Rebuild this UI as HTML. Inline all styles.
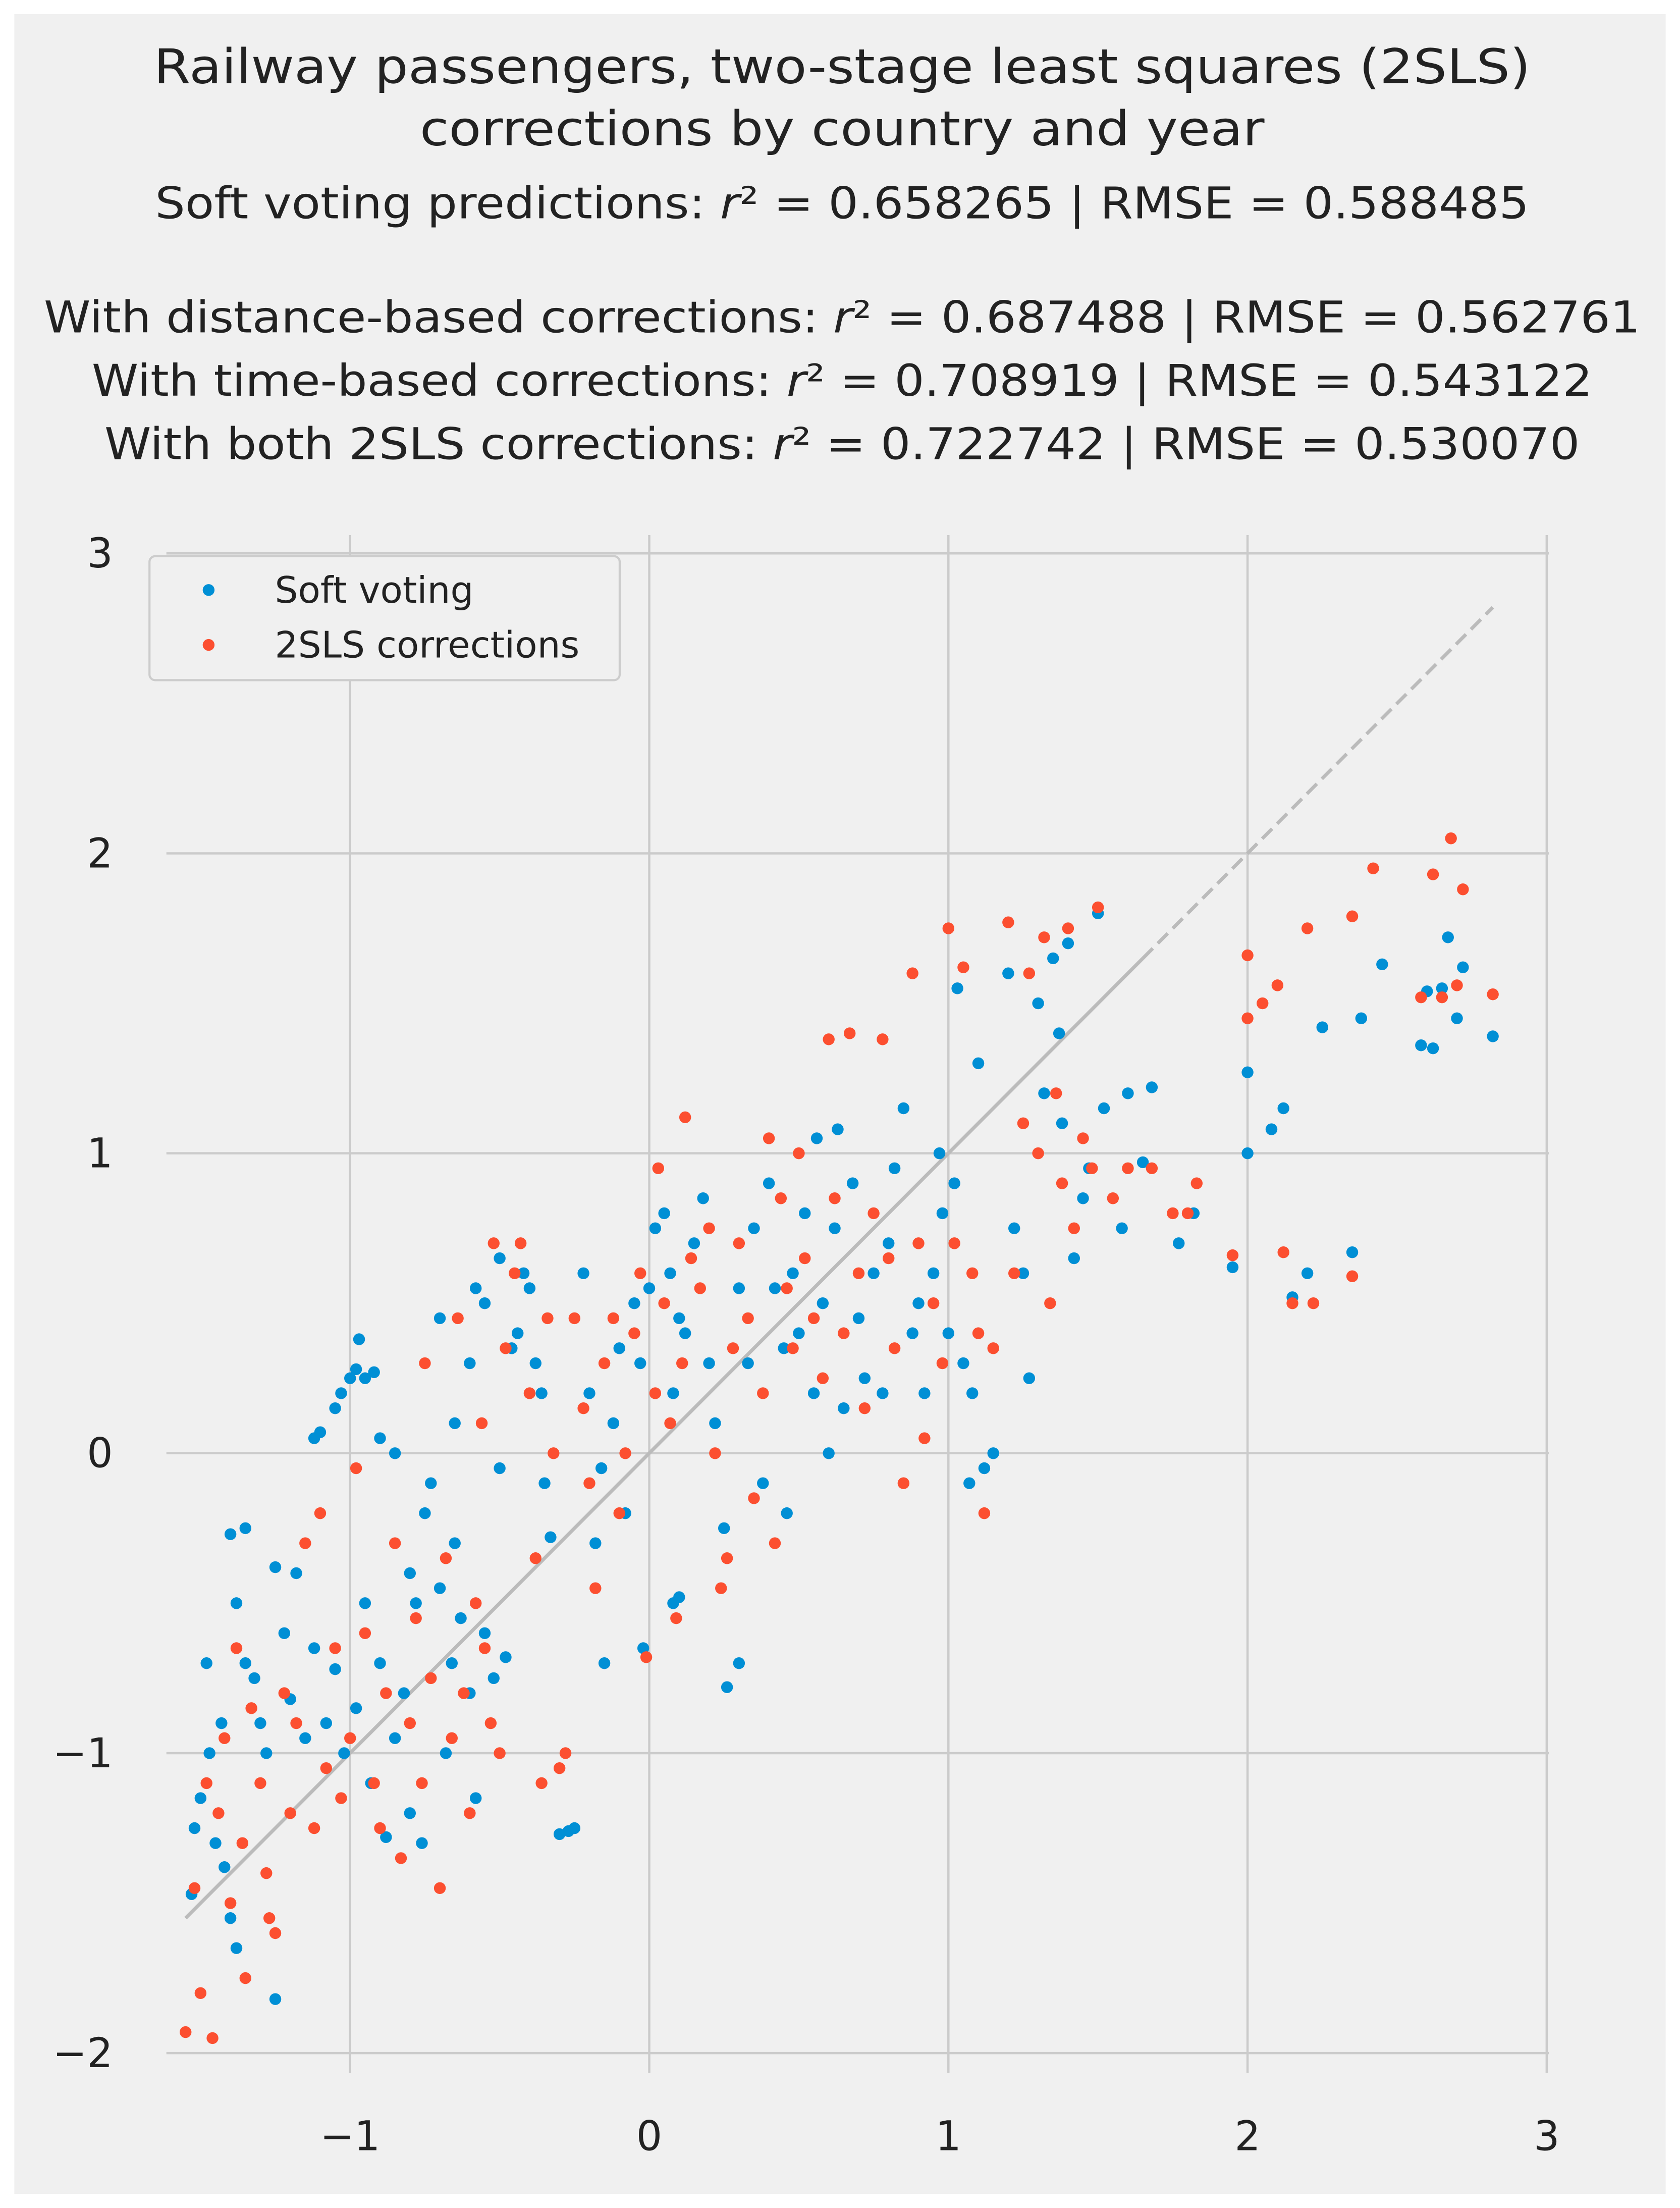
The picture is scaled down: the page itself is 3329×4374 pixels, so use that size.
<!DOCTYPE html>
<html><head><meta charset="utf-8"><style>
html,body{margin:0;padding:0;background:#fff;}
svg{display:block;font-family:"DejaVu Sans","Liberation Sans",sans-serif;}
</style></head><body>
<svg id="chart" width="3329" height="4374" viewBox="0 0 1193 1568" xmlns="http://www.w3.org/2000/svg" xml:space="preserve">
<rect x="0" y="0" width="1193" height="1568" fill="#ffffff"/>
<rect x="10" y="10" width="1173" height="1548" fill="#f0f0f0"/>
<g id="titles" fill="#222" text-anchor="middle">
<text x="598" y="59" font-size="34" textLength="978" lengthAdjust="spacingAndGlyphs">Railway passengers, two-stage least squares (2SLS)</text>
<text x="598" y="103" font-size="34" textLength="600" lengthAdjust="spacingAndGlyphs">corrections by country and year</text>
<text x="598" y="155" font-size="31" textLength="976" lengthAdjust="spacingAndGlyphs">Soft voting predictions: <tspan font-style="italic">r</tspan>² = 0.658265  |  RMSE = 0.588485</text>
<text x="598" y="236" font-size="31" textLength="1134" lengthAdjust="spacingAndGlyphs">With distance-based corrections: <tspan font-style="italic">r</tspan>² = 0.687488  |  RMSE = 0.562761</text>
<text x="598" y="281" font-size="31" textLength="1066" lengthAdjust="spacingAndGlyphs">With time-based corrections: <tspan font-style="italic">r</tspan>² = 0.708919  |  RMSE = 0.543122</text>
<text x="598" y="326" font-size="31" textLength="1048" lengthAdjust="spacingAndGlyphs">With both 2SLS corrections: <tspan font-style="italic">r</tspan>² = 0.722742  |  RMSE = 0.530070</text>
</g>
<g id="grid"></g>
<g id="ticks"></g>
<g id="diag"></g>
<g id="blue"></g>
<g id="red"></g>
<g id="legend">
<rect x="106" y="395" width="334" height="88" rx="4" fill="#f0f0f0" stroke="#cccccc" stroke-width="1.5"/>
<circle cx="148" cy="419" r="4.2" fill="#008fd5"/>
<text x="195" y="428" font-size="26" fill="#222">Soft voting</text>
<circle cx="148" cy="458" r="4.2" fill="#fc4f30"/>
<text x="195" y="467" font-size="26" fill="#222">2SLS corrections</text>
</g>
</svg>
<script>
const xTicks=[-1,0,1,2,3];
const yTicks=[-2,-1,0,1,2,3];
const xTickLabels=["\u22121","0","1","2","3"];
const yTickLabels=["\u22122","\u22121","0","1","2","3"];
const diagRange=[-1.55,1.65,2.82];
const blueX=[-1.53,-1.52,-1.5,-1.48,-1.47,-1.45,-1.43,-1.42,-1.4,-1.38,-1.35,-1.4,-1.38,-1.35,-1.32,-1.3,-1.28,-1.25,-1.25,-1.22,-1.2,-1.18,-1.15,-1.12,-1.12,-1.1,-1.05,-1.03,-1.0,-0.98,-0.97,-0.95,-0.92,-1.08,-1.05,-1.02,-0.98,-0.95,-0.93,-0.9,-0.88,-0.85,-0.82,-0.8,-0.78,-0.76,-0.75,-0.73,-0.7,-0.68,-0.66,-0.65,-0.63,-0.6,-0.58,-0.55,-0.52,-0.5,-0.48,-0.46,-0.44,-0.42,-0.4,-0.38,-0.36,-0.35,-0.33,-0.3,-0.27,-0.25,-0.22,-0.2,-0.18,-0.16,-0.15,-0.12,-0.1,-0.08,-0.05,-0.03,-0.02,0.0,0.02,0.05,0.07,0.1,0.12,0.08,0.15,0.18,0.2,0.22,0.08,0.1,0.25,0.26,0.3,0.3,0.33,0.35,0.38,0.4,0.42,0.45,0.46,0.48,0.5,0.52,0.55,0.56,0.58,0.6,0.62,0.63,0.65,0.68,0.7,0.72,0.75,0.78,0.8,0.82,0.85,0.88,0.9,0.92,0.95,0.97,0.98,1.0,1.02,1.03,1.05,1.07,1.08,1.1,1.12,1.15,1.2,1.22,1.25,1.27,1.3,1.32,1.35,1.37,1.38,1.4,1.42,1.45,1.47,1.5,1.52,1.58,1.6,1.65,1.68,1.77,1.82,1.95,2.0,2.0,2.08,2.12,2.15,2.2,2.25,2.35,2.38,2.45,2.58,2.6,2.62,2.65,2.67,2.7,2.72,2.82,-0.9,-0.85,-0.8,-0.6,-0.55,-0.5,-0.58,-0.65,-0.7];
const blueY=[-1.47,-1.25,-1.15,-0.7,-1.0,-1.3,-0.9,-1.38,-1.55,-1.65,-0.25,-0.27,-0.5,-0.7,-0.75,-0.9,-1.0,-0.38,-1.82,-0.6,-0.82,-0.4,-0.95,-0.65,0.05,0.07,0.15,0.2,0.25,0.28,0.38,0.25,0.27,-0.9,-0.72,-1.0,-0.85,-0.5,-1.1,-0.7,-1.28,-0.95,-0.8,-1.2,-0.5,-1.3,-0.2,-0.1,-0.45,-1.0,-0.7,-0.3,-0.55,-0.8,-1.15,-0.6,-0.75,-0.05,-0.68,0.35,0.4,0.6,0.55,0.3,0.2,-0.1,-0.28,-1.27,-1.26,-1.25,0.6,0.2,-0.3,-0.05,-0.7,0.1,0.35,-0.2,0.5,0.3,-0.65,0.55,0.75,0.8,0.6,0.45,0.4,0.2,0.7,0.85,0.3,0.1,-0.5,-0.48,-0.25,-0.78,-0.7,0.55,0.3,0.75,-0.1,0.9,0.55,0.35,-0.2,0.6,0.4,0.8,0.2,1.05,0.5,0.0,0.75,1.08,0.15,0.9,0.45,0.25,0.6,0.2,0.7,0.95,1.15,0.4,0.5,0.2,0.6,1.0,0.8,0.4,0.9,1.55,0.3,-0.1,0.2,1.3,-0.05,0.0,1.6,0.75,0.6,0.25,1.5,1.2,1.65,1.4,1.1,1.7,0.65,0.85,0.95,1.8,1.15,0.75,1.2,0.97,1.22,0.7,0.8,0.62,1.27,1.0,1.08,1.15,0.52,0.6,1.42,0.67,1.45,1.63,1.36,1.54,1.35,1.55,1.72,1.45,1.62,1.39,0.05,0.0,-0.4,0.3,0.5,0.65,0.55,0.1,0.45];
const redX=[-1.55,-1.52,-1.5,-1.48,-1.46,-1.44,-1.42,-1.4,-1.38,-1.36,-1.35,-1.33,-1.3,-1.28,-1.27,-1.25,-1.22,-1.2,-1.18,-1.15,-1.12,-1.1,-1.08,-1.05,-1.03,-1.0,-0.98,-0.95,-0.92,-0.9,-0.88,-0.85,-0.83,-0.8,-0.78,-0.76,-0.75,-0.73,-0.7,-0.68,-0.66,-0.64,-0.62,-0.6,-0.58,-0.56,-0.55,-0.53,-0.52,-0.5,-0.48,-0.45,-0.43,-0.4,-0.38,-0.36,-0.34,-0.32,-0.3,-0.28,-0.25,-0.22,-0.2,-0.18,-0.15,-0.12,-0.1,-0.08,-0.05,-0.03,-0.01,0.02,0.03,0.05,0.07,0.09,0.11,0.12,0.14,0.17,0.2,0.22,0.24,0.26,0.28,0.3,0.33,0.35,0.38,0.4,0.42,0.44,0.46,0.48,0.5,0.52,0.55,0.58,0.6,0.62,0.65,0.67,0.7,0.72,0.75,0.78,0.8,0.82,0.85,0.88,0.9,0.92,0.95,0.98,1.0,1.02,1.05,1.08,1.1,1.12,1.15,1.2,1.22,1.25,1.27,1.3,1.32,1.34,1.36,1.38,1.4,1.42,1.45,1.48,1.5,1.55,1.6,1.68,1.75,1.8,1.83,1.95,2.0,2.0,2.05,2.1,2.12,2.15,2.22,2.2,2.35,2.35,2.42,2.58,2.62,2.65,2.68,2.7,2.72,2.82];
const redY=[-1.93,-1.45,-1.8,-1.1,-1.95,-1.2,-0.95,-1.5,-0.65,-1.3,-1.75,-0.85,-1.1,-1.4,-1.55,-1.6,-0.8,-1.2,-0.9,-0.3,-1.25,-0.2,-1.05,-0.65,-1.15,-0.95,-0.05,-0.6,-1.1,-1.25,-0.8,-0.3,-1.35,-0.9,-0.55,-1.1,0.3,-0.75,-1.45,-0.35,-0.95,0.45,-0.8,-1.2,-0.5,0.1,-0.65,-0.9,0.7,-1.0,0.35,0.6,0.7,0.2,-0.35,-1.1,0.45,0.0,-1.05,-1.0,0.45,0.15,-0.1,-0.45,0.3,0.45,-0.2,0.0,0.4,0.6,-0.68,0.2,0.95,0.5,0.1,-0.55,0.3,1.12,0.65,0.55,0.75,0.0,-0.45,-0.35,0.35,0.7,0.45,-0.15,0.2,1.05,-0.3,0.85,0.55,0.35,1.0,0.65,0.45,0.25,1.38,0.85,0.4,1.4,0.6,0.15,0.8,1.38,0.65,0.35,-0.1,1.6,0.7,0.05,0.5,0.3,1.75,0.7,1.62,0.6,0.4,-0.2,0.35,1.77,0.6,1.1,1.6,1.0,1.72,0.5,1.2,0.9,1.75,0.75,1.05,0.95,1.82,0.85,0.95,0.95,0.8,0.8,0.9,0.66,1.45,1.66,1.5,1.56,0.67,0.5,0.5,1.75,0.59,1.79,1.95,1.52,1.93,1.52,2.05,1.56,1.88,1.53];

const NS="http://www.w3.org/2000/svg";
const X0=461,XU=212.5,Y0=1032,YU=213;
const L=118,R=1100,T=380,B=1472;
function sx(v){return X0+v*XU;}
function sy(v){return Y0-v*YU;}
function mk(tag,attrs,parent){const e=document.createElementNS(NS,tag);for(const k in attrs)e.setAttribute(k,attrs[k]);parent.appendChild(e);return e;}
const grid=document.getElementById('grid'),ticks=document.getElementById('ticks');
xTicks.forEach((v,i)=>{
  const g=mk('line',{x1:sx(v),x2:sx(v),y1:T,y2:B,stroke:'#cbcbcb','stroke-width':1.6},grid);
  
  
  const t=mk('text',{x:sx(v),y:1527,'font-size':29,fill:'#222','text-anchor':'middle'},ticks);
  t.textContent=xTickLabels[i];
  
  
});
yTicks.forEach((v,i)=>{
  const g=mk('line',{x1:L,x2:R,y1:sy(v),y2:sy(v),stroke:'#cbcbcb','stroke-width':1.6},grid);
  
  
  const t=mk('text',{x:80,y:sy(v)+10,'font-size':29,fill:'#222','text-anchor':'end'},ticks);
  t.textContent=yTickLabels[i];
  
  
});
const diag=document.getElementById('diag');
const d1=mk('line',{x1:sx(diagRange[0]),y1:sy(diagRange[0]),x2:sx(diagRange[1]),y2:sy(diagRange[1]),stroke:'#bbbbbb','stroke-width':2.5},diag);


const d2=mk('line',{x1:sx(diagRange[1]),y1:sy(diagRange[1]),x2:sx(diagRange[2]),y2:sy(diagRange[2]),stroke:'#bbbbbb','stroke-width':2.5,'stroke-dasharray':'10,5'},diag);


const bg=document.getElementById('blue'),rg=document.getElementById('red');
blueX.forEach((v,i)=>{
  const c=mk('circle',{cx:sx(v),cy:sy(blueY[i]),r:4.2,fill:'#008fd5'},bg);
  
  
});
redX.forEach((v,i)=>{
  const c=mk('circle',{cx:sx(v),cy:sy(redY[i]),r:4.2,fill:'#fc4f30'},rg);
  
  
});
</script>
</body></html>
